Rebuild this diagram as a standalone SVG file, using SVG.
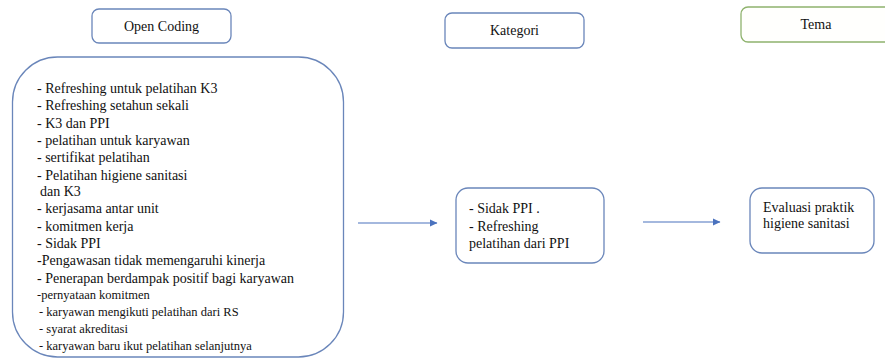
<svg xmlns="http://www.w3.org/2000/svg" width="885" height="362" viewBox="0 0 885 362">
<style>
.box{fill:#ffffff;stroke:#6a86ba;stroke-width:1.3}
.green{fill:#fffffd;stroke:#8fb36e;stroke-width:1.3}
text{font-size:14px;fill:#111}
.s{font-size:12.5px}
.c{text-anchor:middle}
.conn{stroke:#4a72be;stroke-width:1.2;fill:none}
</style>
<defs>
<marker id="ah" markerWidth="8" markerHeight="8" refX="7" refY="4" orient="auto" markerUnits="userSpaceOnUse">
<path d="M0,0.5 L7.5,4 L0,7.5 Z" fill="#4a72be"/>
</marker>
</defs>
<rect width="885" height="362" fill="#ffffff"/>
<g font-family="Liberation Serif, DejaVu Serif, serif">
<g id="open-coding-header">
<rect class="box" x="92" y="9" width="139" height="34" rx="7"/>
<text class="c" x="161.5" y="31">Open Coding</text>
</g>
<g id="open-coding-list">
<rect class="box" x="12.5" y="57" width="331" height="300" rx="45"/>
<text x="37" y="93">- Refreshing untuk pelatihan K3</text>
<text x="37" y="110">- Refreshing setahun sekali</text>
<text x="37" y="127.5">- K3 dan PPI</text>
<text x="37" y="145">- pelatihan untuk karyawan</text>
<text x="37" y="162">- sertifikat pelatihan</text>
<text x="37" y="179.5">- Pelatihan higiene sanitasi</text>
<text x="40" y="196">dan K3</text>
<text x="37" y="213">- kerjasama antar unit</text>
<text x="37" y="230.5">- komitmen kerja</text>
<text x="37" y="248">- Sidak PPI</text>
<text x="37" y="265">-Pengawasan tidak memengaruhi kinerja</text>
<text x="37" y="282.5">- Penerapan berdampak positif bagi karyawan</text>
<text class="s" x="37" y="299">-pernyataan komitmen</text>
<text class="s" x="39" y="316">- karyawan mengikuti pelatihan dari RS</text>
<text class="s" x="39" y="333">- syarat akreditasi</text>
<text class="s" x="39" y="350">- karyawan baru ikut pelatihan selanjutnya</text>
</g>
<g id="kategori-header">
<rect class="box" x="445" y="13" width="139" height="35" rx="7"/>
<text class="c" x="514.5" y="35">Kategori</text>
</g>
<g id="kategori-content">
<rect class="box" x="456" y="188" width="148" height="75" rx="12"/>
<text x="469" y="213">- Sidak PPI  .</text>
<text x="469" y="230.5">- Refreshing</text>
<text x="469" y="248">pelatihan dari PPI</text>
</g>
<g id="tema-header">
<rect class="green" x="741" y="7" width="152" height="35" rx="7"/>
<text class="c" x="816" y="29">Tema</text>
</g>
<g id="tema-content">
<rect class="box" x="750" y="188" width="124" height="65" rx="12"/>
<text x="763" y="212">Evaluasi praktik</text>
<text x="763" y="228">higiene sanitasi</text>
</g>
</g>
<g id="connectors">
<line class="conn" x1="358" y1="223" x2="437" y2="223" marker-end="url(#ah)"/>
<line class="conn" x1="643" y1="222" x2="720" y2="222" marker-end="url(#ah)"/>
</g>
</svg>
